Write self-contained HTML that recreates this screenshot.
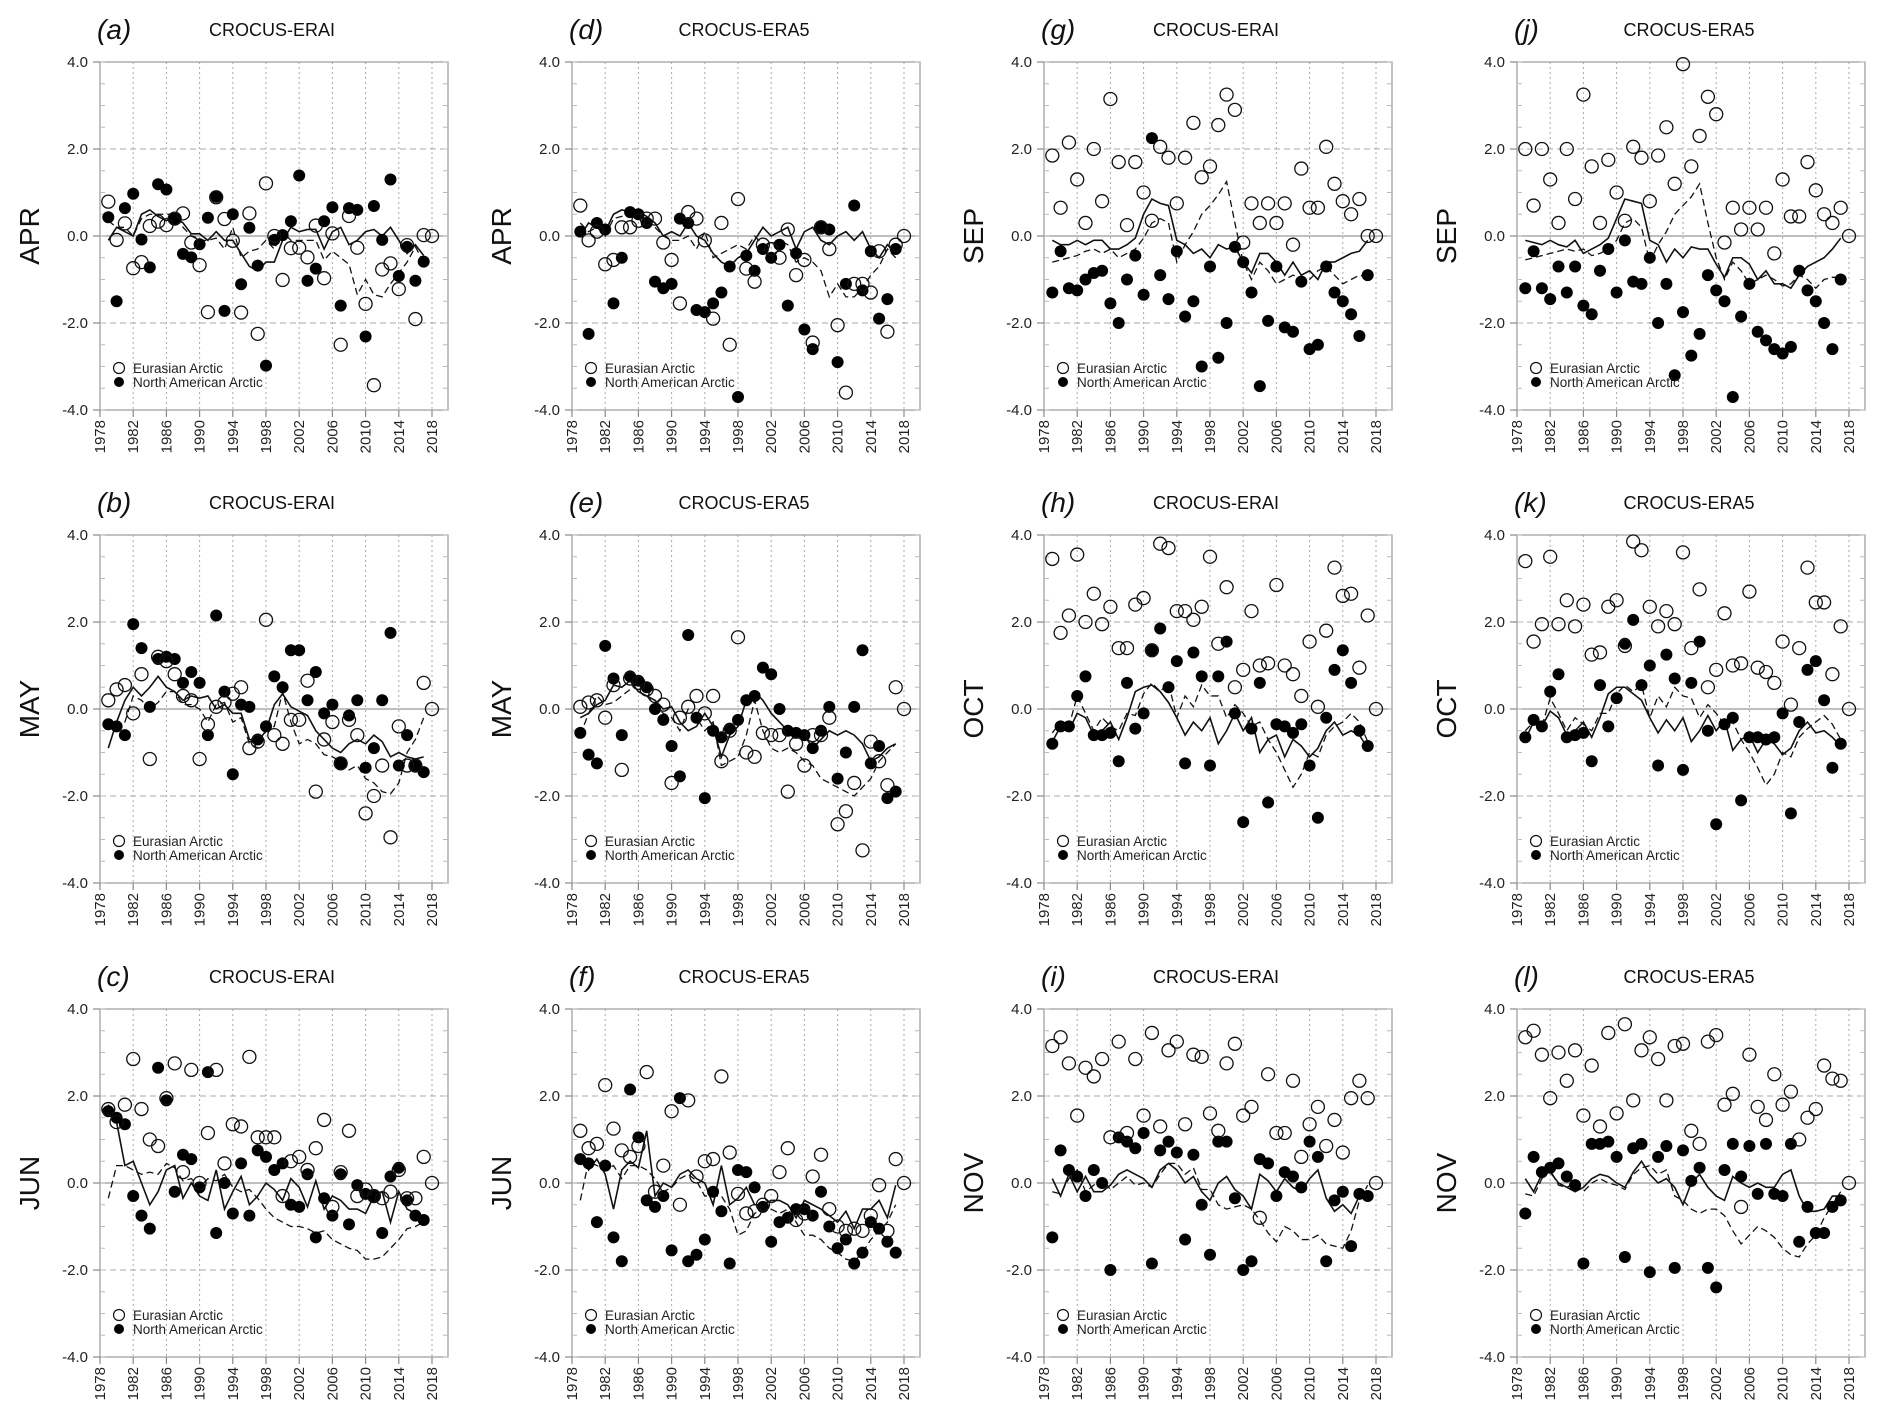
<!DOCTYPE html>
<html><head><meta charset="utf-8"><style>
html,body{margin:0;padding:0;background:#fff;}
svg{display:block;font-family:"Liberation Sans",sans-serif;}
</style></head><body>
<svg id="chart" width="1892" height="1413" viewBox="0 0 1892 1413" xmlns="http://www.w3.org/2000/svg"></svg>
<script>
const tickYears = [1978,1982,1986,1990,1994,1998,2002,2006,2010,2014,2018];
const yTicks = [4,2,0,-2,-4];
const yTickLabels = ["4.0","2.0","0.0","-2.0","-4.0"];
const panelLetters = ["a","b","c","d","e","f","g","h","i","j","k","l"];
const panelMonths = ["APR","MAY","JUN","APR","MAY","JUN","SEP","OCT","NOV","SEP","OCT","NOV"];
const panelTitles = ["CROCUS-ERAI","CROCUS-ERAI","CROCUS-ERAI","CROCUS-ERA5","CROCUS-ERA5","CROCUS-ERA5","CROCUS-ERAI","CROCUS-ERAI","CROCUS-ERAI","CROCUS-ERA5","CROCUS-ERA5","CROCUS-ERA5"];
const firstYear = 1979;

const openA=[0.79,-0.09,0.29,-0.74,-0.6,0.23,0.33,0.25,0.4,0.52,-0.15,-0.67,-1.75,0.89,0.39,-0.11,-1.76,0.52,-2.25,1.21,0,-1.01,-0.28,-0.27,-0.49,0.24,-0.97,0.06,-2.5,0.46,-0.27,-1.56,-3.43,-0.77,-0.63,-1.22,-0.21,-1.91,0.02,0];
const fillA=[0.43,-1.5,0.64,0.97,-0.08,-0.72,1.19,1.07,0.4,-0.41,-0.49,-0.19,0.42,0.9,-1.72,0.5,-1.11,0.19,-0.68,-2.98,-0.09,0.02,0.34,1.39,-1.03,-0.75,0.34,0.66,-1.6,0.64,0.6,-2.31,0.69,-0.09,1.3,-0.92,-0.25,-1.03,-0.59];
const solidA=[-0.1,0.2,0.1,0,0.5,0.6,0.45,0.35,0.45,0.3,0.05,0.05,-0.1,0.1,-0.1,-0.1,-0.4,-0.7,-0.8,-0.6,-0.6,-0.1,0.2,0.1,0.15,0.15,-0.3,0.1,0.2,-0.2,-0.1,0.1,0.15,0,0.2,-0.1,-0.4,-0.2,-0.45];
const dashA=[0.35,0.2,0.2,0,0.4,0.5,0.5,0.5,0.5,0.2,0,-0.1,-0.1,-0.05,-0.3,0.2,-0.5,-0.35,-0.3,-0.1,-0.3,0.1,-0.1,-0.1,-0.1,-0.1,-0.55,-0.35,-0.5,-0.65,-1.35,-1,-1.35,-1.4,-1.1,-0.85,-0.6,-0.25,-0.6];

const openB=[0.2,0.45,0.55,-0.1,0.8,-1.15,1.2,1.1,0.8,0.3,0.2,-1.15,-0.35,0.05,0.15,0.35,0.5,-0.9,-0.75,2.05,-0.6,-0.8,-0.25,-0.25,0.65,-1.9,-0.7,-0.3,-1.25,-0.25,-0.6,-2.4,-2.0,-1.3,-2.95,-0.4,-1.3,-1.3,0.6,0];
const fillB=[-0.35,-0.4,-0.6,1.95,1.4,0.05,1.15,1.2,1.15,0.6,0.85,0.6,-0.6,2.15,0.4,-1.5,0.1,0.05,-0.7,-0.4,0.75,0.5,1.35,1.35,0.2,0.85,-0.1,0.1,-1.25,-0.15,0.2,-1.35,-0.9,0.2,1.75,-1.3,-0.6,-1.3,-1.45];
const solidB=[-0.9,-0.3,0.2,0.5,0.3,0.5,0.75,0.5,0.4,0.2,0.3,0.25,0.3,0,0.1,-0.1,-0.1,-0.7,-0.75,-0.5,0.1,0.35,0.05,-0.05,-0.15,-0.5,-0.7,-0.9,-1.0,-0.8,-0.7,-0.8,-0.6,-0.75,-1.1,-1.0,-1.1,-1.15,-1.1];
const dashB=[-0.35,-0.5,-0.3,0.3,0.2,0.0,0.15,0.4,0.4,0.1,0.1,0,-0.3,0.1,0.15,-0.3,-0.2,-0.8,-0.9,-0.5,-0.4,0.4,-0.3,-0.8,-0.7,-0.8,-1.05,-1.1,-1.2,-1.4,-1.3,-1.6,-1.7,-1.9,-1.95,-1.7,-1.0,-0.7,-0.2];

const openC=[1.7,1.4,1.8,2.85,1.7,1.0,0.85,1.95,2.75,0.25,2.6,0.0,1.15,2.6,0.45,1.35,1.3,2.9,1.05,1.05,1.05,-0.3,0.5,0.6,0.3,0.8,1.45,-0.55,0.25,1.2,-0.3,-0.15,-0.3,-0.35,-0.2,0.3,-0.35,-0.35,0.6,0];
const fillC=[1.65,1.5,1.35,-0.3,-0.75,-1.05,2.65,1.9,-0.2,0.65,0.55,-0.1,2.55,-1.15,0.0,-0.7,0.45,-0.75,0.75,0.6,0.3,0.45,-0.5,-0.55,0.2,-1.25,-0.35,-0.75,0.2,-0.95,-0.05,-0.25,-0.3,-1.15,0.15,0.35,-0.4,-0.75,-0.85];
const solidC=[1.8,1.4,0.4,0.5,0.0,-0.5,-0.2,0.3,0.4,-0.35,0.0,-0.3,-0.4,0.3,-0.6,-0.2,0.15,-0.5,-0.3,0.0,-0.15,-0.4,0.1,-0.1,-0.55,0.05,-0.6,-0.3,-0.4,-0.6,-0.6,-0.7,-0.3,-0.2,-0.9,-0.2,-0.6,-0.7,-0.9];
const dashC=[-0.35,0.4,0.4,0.3,0.2,0.25,0.2,0.45,0.35,0.05,0.1,-0.1,0.1,0.05,0.2,-0.1,-0.2,-0.15,-0.35,-0.6,-0.8,-0.9,-1.0,-1.0,-1.05,-1.15,-1.1,-1.3,-1.4,-1.5,-1.55,-1.75,-1.75,-1.7,-1.5,-1.3,-1.05,-1.0,-0.9];

const openD=[0.7,-0.1,0.1,-0.65,-0.55,0.2,0.2,0.35,0.4,0.4,-0.15,-0.55,-1.55,0.55,0.4,-0.1,-1.9,0.3,-2.5,0.85,-0.75,-1.05,-0.2,-0.3,-0.5,0.15,-0.9,-0.55,-2.45,0.2,-0.3,-2.05,-3.6,-1.1,-1.1,-1.3,-0.35,-2.2,-0.2,0];
const fillD=[0.1,-2.25,0.3,0.15,-1.55,-0.5,0.55,0.5,0.3,-1.05,-1.2,-1.1,0.4,0.3,-1.7,-1.75,-1.55,-1.3,-0.7,-3.7,-0.45,-0.8,-0.3,-0.5,-0.2,-1.6,-0.4,-2.15,-2.6,0.2,0.15,-2.9,-1.1,0.7,-1.25,-0.35,-1.9,-1.45,-0.3];
const solidD=[0.0,0.3,0.2,0.1,0.5,0.6,0.55,0.55,0.45,0.3,0.0,0.1,0.0,0.3,0.0,-0.1,-0.4,-0.6,-0.7,-0.5,-0.4,-0.1,0.2,0.0,0.1,0.2,-0.3,0.1,0.2,-0.1,-0.2,0.0,0.1,-0.1,0.1,-0.3,-0.5,-0.2,-0.4];
const dashD=[0.3,0.1,0.2,0.0,0.4,0.45,0.5,0.45,0.4,0.2,0.0,-0.1,-0.1,0.0,-0.3,0.1,-0.5,-0.4,-0.3,-0.2,-0.3,0.0,-0.2,-0.2,-0.1,-0.2,-0.6,-0.5,-0.6,-0.8,-1.4,-1.1,-1.4,-1.4,-1.2,-0.9,-0.7,-0.3,-0.5];

const openE=[0.05,0.15,0.2,-0.2,0.55,-1.4,0.7,0.6,0.45,0.3,0.1,-1.7,-0.2,0.05,0.3,-0.1,0.3,-1.2,-0.5,1.65,-1.0,-1.1,-0.55,-0.6,-0.6,-1.9,-0.8,-1.3,-0.6,-0.6,-0.2,-2.65,-2.35,-1.7,-3.25,-0.75,-1.2,-1.75,0.5,0];
const fillE=[-0.55,-1.05,-1.25,1.45,0.7,-0.6,0.75,0.65,0.5,0.0,-0.25,-0.85,-1.55,1.7,-0.2,-2.05,-0.5,-0.65,-0.45,-0.25,0.2,0.3,0.95,0.8,0.0,-0.5,-0.55,-0.6,-0.9,-0.5,0.05,-1.6,-1.0,0.05,1.35,-1.25,-0.85,-2.05,-1.9];
const solidE=[-0.2,-0.1,0.1,0.2,0.55,0.5,0.65,0.4,0.3,0.2,0.0,0.05,-0.3,-0.5,-0.4,-0.1,-0.4,-1.1,-0.6,-0.4,0.2,0.4,0.2,-0.1,-0.3,-0.5,-0.5,-0.6,-0.9,-0.7,-0.5,-0.6,-0.5,-0.6,-0.8,-1.2,-1.1,-0.9,-0.8];
const dashE=[-0.6,-0.1,0.3,0.1,0.15,0.3,0.45,0.6,0.3,0.1,-0.1,-0.2,-0.5,0.0,-0.2,-0.5,-0.3,-1.3,-1.2,-1.1,-0.6,0.2,-0.5,-0.9,-1.0,-0.9,-1.0,-1.2,-1.3,-1.6,-1.7,-1.8,-1.9,-2.0,-1.8,-1.6,-1.2,-1.0,-0.8];

const openF=[1.2,0.8,0.9,2.25,1.25,0.75,0.6,0.85,2.55,-0.2,0.4,1.65,-0.5,1.9,0.15,0.5,0.55,2.45,0.7,-0.25,-0.7,-0.65,-0.5,-0.3,0.25,0.8,-0.85,-0.7,0.15,0.65,-0.6,-1.0,-1.1,-1.05,-1.1,-0.75,-0.05,-1.1,0.55,0];
const fillF=[0.55,0.45,-0.9,0.4,-1.25,-1.8,2.15,1.05,-0.4,-0.55,-0.3,-1.55,1.95,-1.8,-1.65,-1.3,-0.2,-0.65,-1.85,0.3,0.25,-0.1,-0.55,-1.35,-0.9,-0.8,-0.6,-0.6,-0.75,-0.2,-1.0,-1.5,-1.3,-1.85,-1.6,-0.9,-1.05,-1.35,-1.6];
const solidF=[0.6,0.3,0.55,0.2,-0.6,0.3,0.5,0.35,1.2,-0.3,0.0,-0.1,0.2,0.3,0.1,0.0,-0.5,0.4,-0.5,-0.35,-0.1,-0.5,-0.5,-0.4,-0.4,-0.5,-0.8,-0.4,-0.5,-0.6,-0.75,-0.9,-0.65,-1.05,-0.6,-0.6,-0.4,-0.8,-0.05];
const dashF=[-0.4,0.5,0.4,0.3,0.4,0.1,0.4,0.4,0.3,0.1,-0.2,-0.1,0.1,0.2,0.05,-0.3,-0.3,-0.3,-0.6,-1.2,-1.1,-0.7,-0.6,-0.6,-0.7,-0.6,-0.9,-1.2,-1.2,-1.3,-1.5,-1.6,-1.75,-1.8,-1.6,-1.3,-1.1,-0.9,-0.5];

const openG=[1.85,0.65,2.15,1.3,0.3,2.0,0.8,3.15,1.7,0.25,1.7,1.0,0.35,2.05,1.8,0.75,1.8,2.6,1.35,1.6,2.55,3.25,2.9,-0.15,0.75,0.3,0.75,0.3,0.75,-0.2,1.55,0.65,0.65,2.05,1.2,0.8,0.5,0.85,0.0,0];
const fillG=[-1.3,-0.35,-1.2,-1.25,-1.0,-0.85,-0.8,-1.55,-2.0,-1.0,-0.45,-1.35,2.25,-0.9,-1.45,-0.35,-1.85,-1.5,-3.0,-0.7,-2.8,-2.0,-0.25,-0.6,-1.3,-3.45,-1.95,-0.7,-2.1,-2.2,-1.05,-2.6,-2.5,-0.7,-1.3,-1.5,-1.8,-2.3,-0.9];
const solidG=[-0.1,-0.2,-0.2,-0.1,-0.2,-0.1,-0.1,-0.3,-0.3,-0.2,-0.05,0.5,0.85,0.75,0.7,-0.1,-0.2,-0.4,-0.3,-0.5,-0.2,-0.3,-0.25,-0.6,-0.85,-0.4,-0.4,-0.6,-0.9,-0.6,-0.9,-0.8,-1.0,-0.6,-0.6,-0.5,-0.4,-0.35,-0.1];
const dashG=[-0.6,-0.55,-0.5,-0.45,-0.35,-0.3,-0.4,-0.3,-0.5,-0.4,-0.3,-0.05,0.3,0.4,0.3,-0.6,-0.2,0.1,0.5,0.7,0.95,1.25,0.3,-0.6,-1.0,-0.6,-0.8,-1.1,-1.0,-0.9,-0.95,-1.0,-0.8,-0.7,-0.9,-1.1,-1.0,-0.9,-0.95];

const openH=[3.45,1.75,2.15,3.55,2.0,2.65,1.95,2.35,1.4,1.4,2.4,2.55,1.35,3.8,3.7,2.25,2.25,2.05,2.35,3.5,1.5,2.8,0.5,0.9,2.25,1.0,1.05,2.85,1.0,0.8,0.3,1.55,0.05,1.8,3.25,2.6,2.65,0.95,2.15,0];
const fillH=[-0.8,-0.4,-0.4,0.3,0.75,-0.6,-0.6,-0.55,-1.2,0.6,-0.45,-0.1,1.35,1.85,0.5,1.1,-1.25,1.3,0.75,-1.3,0.75,1.55,-0.1,-2.6,-0.45,0.6,-2.15,-0.35,-0.4,-0.55,-0.35,-1.3,-2.5,-0.2,0.9,1.35,0.6,-0.5,-0.85];
const solidH=[-0.75,-0.4,-0.5,-0.1,-0.2,-0.6,-0.5,-0.3,-0.7,-0.2,0.4,0.5,0.55,0.4,0.15,-0.2,-0.6,-0.3,-0.5,-0.2,-0.8,-0.5,-0.1,-0.5,-0.2,-1.0,-0.7,-0.6,-1.1,-0.7,-0.85,-1.1,-0.9,-0.5,-0.3,-0.6,-0.5,-0.6,-0.9];
const dashH=[-0.55,-0.3,-0.4,0.3,-0.1,-0.5,-0.2,-0.4,-0.5,-0.1,-0.15,0.35,0.6,0.4,0.6,-0.2,0.3,0.05,0.55,0.3,0.3,-0.2,0.1,-0.1,-0.4,-0.3,-0.7,-1.0,-1.4,-1.8,-1.5,-1.0,-1.1,-0.6,-0.4,-0.3,-0.1,-0.3,-0.75];

const openI=[3.15,3.35,2.75,1.55,2.65,2.45,2.85,1.05,3.25,1.15,2.85,1.55,3.45,1.3,3.05,3.25,1.35,2.95,2.9,1.6,1.2,2.75,3.2,1.55,1.75,-0.8,2.5,1.15,1.15,2.35,0.6,1.35,1.75,0.85,1.45,0.7,1.95,2.35,1.95,0];
const fillI=[-1.25,0.75,0.3,0.15,-0.3,0.3,0.0,-2.0,1.05,0.95,0.8,1.15,-1.85,0.75,0.95,0.7,-1.3,0.65,-0.5,-1.65,0.95,0.95,-0.35,-2.0,-1.8,0.55,0.45,-0.3,0.25,0.15,-0.1,0.95,0.6,-1.8,-0.4,-0.2,-1.45,-0.25,-0.3];
const solidI=[0.1,-0.3,0.2,-0.2,0.15,-0.2,-0.2,-0.05,0.2,0.3,0.2,0.1,-0.1,0.3,0.45,0.3,0.0,0.15,-0.2,-0.4,0.0,0.15,-0.15,-0.3,-0.6,0.2,0.05,-0.2,0.1,-0.1,-0.2,0.1,0.3,-0.35,-0.65,-0.5,-0.7,-0.3,-0.2];
const dashI=[-0.2,-0.25,0.1,0.3,-0.2,-0.05,0.1,-0.15,0.0,0.15,-0.05,0.0,-0.1,0.2,0.45,0.45,0.2,0.35,-0.15,-0.15,-0.5,-0.6,-0.55,-0.5,-0.6,-0.85,-1.15,-1.35,-1.0,-1.1,-1.3,-1.3,-1.2,-1.4,-1.45,-1.5,-1.1,-0.4,-0.05];

const openJ=[2.0,0.7,2.0,1.3,0.3,2.0,0.85,3.25,1.6,0.3,1.75,1.0,0.35,2.05,1.8,0.8,1.85,2.5,1.2,3.95,1.6,2.3,3.2,2.8,-0.15,0.65,0.15,0.65,0.15,0.65,-0.4,1.3,0.45,0.45,1.7,1.05,0.5,0.3,0.65,0];
const fillJ=[-1.2,-0.35,-1.2,-1.45,-0.7,-1.3,-0.7,-1.6,-1.8,-0.8,-0.3,-1.3,-0.1,-1.05,-1.1,-0.5,-2.0,-1.1,-3.2,-1.75,-2.75,-2.25,-0.9,-1.25,-1.5,-3.7,-1.85,-1.1,-2.2,-2.4,-2.6,-2.7,-2.55,-0.8,-1.25,-1.5,-2.0,-2.6,-1.0];
const solidJ=[-0.1,-0.15,-0.2,-0.1,-0.2,-0.25,-0.1,-0.4,-0.3,-0.2,-0.05,0.4,0.85,0.8,0.75,-0.1,-0.2,-0.6,-0.3,-0.5,-0.25,-0.3,-0.3,-0.65,-0.95,-0.5,-0.5,-0.65,-1.0,-0.8,-1.1,-1.1,-1.2,-0.9,-0.7,-0.6,-0.5,-0.3,-0.05];
const dashJ=[-0.55,-0.5,-0.45,-0.4,-0.35,-0.3,-0.35,-0.3,-0.45,-0.4,-0.3,-0.1,0.3,0.4,0.2,-0.6,-0.2,0.1,0.5,0.7,0.9,1.2,0.3,-0.5,-1.0,-0.6,-0.8,-1.1,-1.0,-0.9,-1.0,-1.15,-1.1,-0.9,-1.0,-1.2,-1.0,-0.95,-0.95];

const openK=[3.4,1.55,1.95,3.5,1.95,2.5,1.9,2.4,1.25,1.3,2.35,2.5,1.45,3.85,3.65,2.35,1.9,2.25,1.95,3.6,1.4,2.75,0.5,0.9,2.2,1.0,1.05,2.7,0.95,0.85,0.6,1.55,0.1,1.4,3.25,2.45,2.45,0.8,1.9,0];
const fillK=[-0.65,-0.25,-0.4,0.4,0.8,-0.65,-0.6,-0.55,-1.2,0.55,-0.4,0.25,1.5,2.05,0.55,1.0,-1.3,1.25,0.7,-1.4,0.6,1.55,-0.5,-2.65,-0.35,-0.2,-2.1,-0.65,-0.65,-0.7,-0.65,-0.1,-2.4,-0.3,0.9,1.1,0.2,-1.35,-0.8];
const solidK=[-0.7,-0.3,-0.4,-0.05,-0.2,-0.6,-0.5,-0.3,-0.65,-0.2,0.35,0.5,0.5,0.35,0.2,-0.2,-0.55,-0.25,-0.5,-0.2,-0.75,-0.5,-0.15,-0.5,-0.25,-0.95,-0.7,-0.6,-1.0,-0.7,-0.8,-1.05,-0.9,-0.5,-0.3,-0.55,-0.5,-0.65,-0.85];
const dashK=[-0.5,-0.3,-0.4,0.25,-0.1,-0.5,-0.2,-0.35,-0.5,-0.1,-0.1,0.35,0.55,0.4,0.55,-0.2,0.3,0.05,0.5,0.3,0.25,-0.2,0.1,-0.1,-0.35,-0.3,-0.7,-1.0,-1.35,-1.75,-1.5,-1.0,-1.1,-0.65,-0.45,-0.3,-0.15,-0.35,-0.7];

const openL=[3.35,3.5,2.95,1.95,3.0,2.35,3.05,1.55,2.7,1.3,3.45,1.6,3.65,1.9,3.05,3.35,2.85,1.9,3.15,3.2,1.2,0.9,3.25,3.4,1.8,2.05,-0.55,2.95,1.75,1.45,2.5,1.8,2.1,1.0,1.5,1.7,2.7,2.4,2.35,0];
const fillL=[-0.7,0.6,0.25,0.35,0.45,0.15,-0.05,-1.85,0.9,0.9,0.95,0.6,-1.7,0.8,0.9,-2.05,0.6,0.85,-1.95,0.75,0.05,0.35,-1.95,-2.4,0.3,0.9,0.15,0.85,-0.25,0.9,-0.25,-0.3,0.9,-1.35,-0.55,-1.15,-1.15,-0.55,-0.4];
const solidL=[0.1,-0.2,0.2,0.25,0.0,-0.1,-0.2,-0.1,0.1,0.2,0.15,0.0,-0.1,0.25,0.5,0.2,0.0,0.1,-0.1,-0.5,0.0,0.2,-0.1,-0.3,-0.4,0.15,0.0,-0.1,0.0,-0.1,-0.1,0.2,0.3,-0.3,-0.65,-0.65,-0.6,-0.3,-0.3];
const dashL=[-0.25,-0.3,0.1,0.3,-0.05,-0.1,0.0,-0.2,0.0,0.1,0.0,-0.05,-0.15,0.2,0.35,0.4,0.2,0.3,-0.3,-0.4,-0.6,-0.7,-0.6,-0.6,-0.75,-1.1,-1.4,-1.2,-1.0,-1.1,-1.25,-1.5,-1.65,-1.7,-1.4,-1.2,-0.8,-0.5,-0.2];

const openSeries=[openA,openB,openC,openD,openE,openF,openG,openH,openI,openJ,openK,openL];
const fillSeries=[fillA,fillB,fillC,fillD,fillE,fillF,fillG,fillH,fillI,fillJ,fillK,fillL];
const solidSeries=[solidA,solidB,solidC,solidD,solidE,solidF,solidG,solidH,solidI,solidJ,solidK,solidL];
const dashSeries=[dashA,dashB,dashC,dashD,dashE,dashF,dashG,dashH,dashI,dashJ,dashK,dashL];

const NS="http://www.w3.org/2000/svg";
const svg=document.getElementById('chart');
function mk(tag,attrs,parent){const e=document.createElementNS(NS,tag);for(const k in attrs)e.setAttribute(k,attrs[k]);parent.appendChild(e);return e;}

const colLeft=[100,572,1044,1517];
const rowTop=[62,535,1009];
const FW=348, FH=348, XSPAN=332;

for(let p=0;p<12;p++){
  const col=Math.floor(p/3), row=p%3;
  const L=colLeft[col], T=rowTop[row];
  const xS=yr=>L+(yr-1978)/40*XSPAN;
  const yS=v=>T+(4-v)/8*FH;
  const g=mk('g',{},svg);
  
  
  // grid verticals
  tickYears.forEach(yr=>{
    const l=mk('line',{x1:xS(yr),x2:xS(yr),y1:T,y2:T+FH,stroke:'#aaa','stroke-width':1,'stroke-dasharray':'2,3'},g);
    
    
  });
  // horizontal grid
  [2,-2].forEach(v=>{
    const l=mk('line',{x1:L,x2:L+FW,y1:yS(v),y2:yS(v),stroke:'#aaa','stroke-width':1,'stroke-dasharray':'6,4'},g);
    
    
  });
  const z=mk('line',{x1:L,x2:L+FW,y1:yS(0),y2:yS(0),stroke:'#999','stroke-width':1.2},g);
  
  
  // frame
  const fr=mk('rect',{x:L,y:T,width:FW,height:FH,fill:'none',stroke:'#999','stroke-width':1.2},g);
  
  
  // minor ticks right side & ticks
  for(let v=-4;v<=4;v+=0.5){
    const t=mk('line',{x1:L+FW-5,x2:L+FW,y1:yS(v),y2:yS(v),stroke:'#bbb','stroke-width':1},g);
    
    
    const t2=mk('line',{x1:L,x2:L+5,y1:yS(v),y2:yS(v),stroke:'#bbb','stroke-width':1},g);
    
    
  }
  yTicks.forEach((v,i)=>{
    const t=mk('line',{x1:L-7,x2:L,y1:yS(v),y2:yS(v),stroke:'#888','stroke-width':1.2},g);
    
    
    const tx=mk('text',{x:L-12,y:yS(v)+5,'text-anchor':'end','font-size':15,fill:'#222'},g);
    tx.textContent=yTickLabels[i];
    
    
  });
  tickYears.forEach(yr=>{
    const t=mk('line',{x1:xS(yr),x2:xS(yr),y1:T+FH,y2:T+FH+7,stroke:'#888','stroke-width':1.2},g);
    
    
    const tx=mk('text',{x:0,y:0,'text-anchor':'end','font-size':15,fill:'#222',transform:`translate(${xS(yr)+5},${T+FH+10}) rotate(-90)`},g);
    tx.textContent=yr;
    
    
  });
  // labels
  const yt=mk('text',{x:0,y:0,'text-anchor':'middle','font-size':28,fill:'#111',transform:`translate(${L-61},${yS(0)}) rotate(-90)`},g);
  yt.textContent=panelMonths[p];
  
  
  const pl=mk('text',{x:L-3,y:T-23,'font-size':28,'font-style':'italic',fill:'#111'},g);
  pl.textContent='('+panelLetters[p]+')';
  
  
  const ti=mk('text',{x:L+172,y:T-26,'text-anchor':'middle','font-size':18,fill:'#111'},g);
  ti.textContent=panelTitles[p];
  
  
  // lines
  const dp=dashSeries[p].map((v,i)=>xS(firstYear+i)+','+yS(v)).join(' ');
  const dl=mk('polyline',{points:dp,fill:'none',stroke:'#111','stroke-width':1.3,'stroke-dasharray':'7,4'},g);
  
  
  const sp=solidSeries[p].map((v,i)=>xS(firstYear+i)+','+yS(v)).join(' ');
  const sl=mk('polyline',{points:sp,fill:'none',stroke:'#111','stroke-width':1.6},g);
  
  
  // points
  fillSeries[p].forEach((v,i)=>{
    const c=mk('circle',{cx:xS(firstYear+i),cy:yS(v),r:6,fill:'#000'},g);
    
    
  });
  openSeries[p].forEach((v,i)=>{
    const c=mk('circle',{cx:xS(firstYear+i),cy:yS(v),r:6.5,fill:'#fff','fill-opacity':0,stroke:'#111','stroke-width':1.3},g);
    
    
  });
  // legend
  const lg=mk('g',{},g);
  
  
  const l1=mk('circle',{cx:L+19,cy:T+306,r:5.5,fill:'#fff',stroke:'#111','stroke-width':1.2},lg);
  
  
  const t1=mk('text',{x:L+33,y:T+311,'font-size':13.5,fill:'#222'},lg);
  t1.textContent='Eurasian Arctic';
  
  
  const l2=mk('circle',{cx:L+19,cy:T+320,r:5,fill:'#000'},lg);
  
  
  const t2=mk('text',{x:L+33,y:T+325,'font-size':13.5,fill:'#222'},lg);
  t2.textContent='North American Arctic';
  
  
}
</script>
</body></html>
